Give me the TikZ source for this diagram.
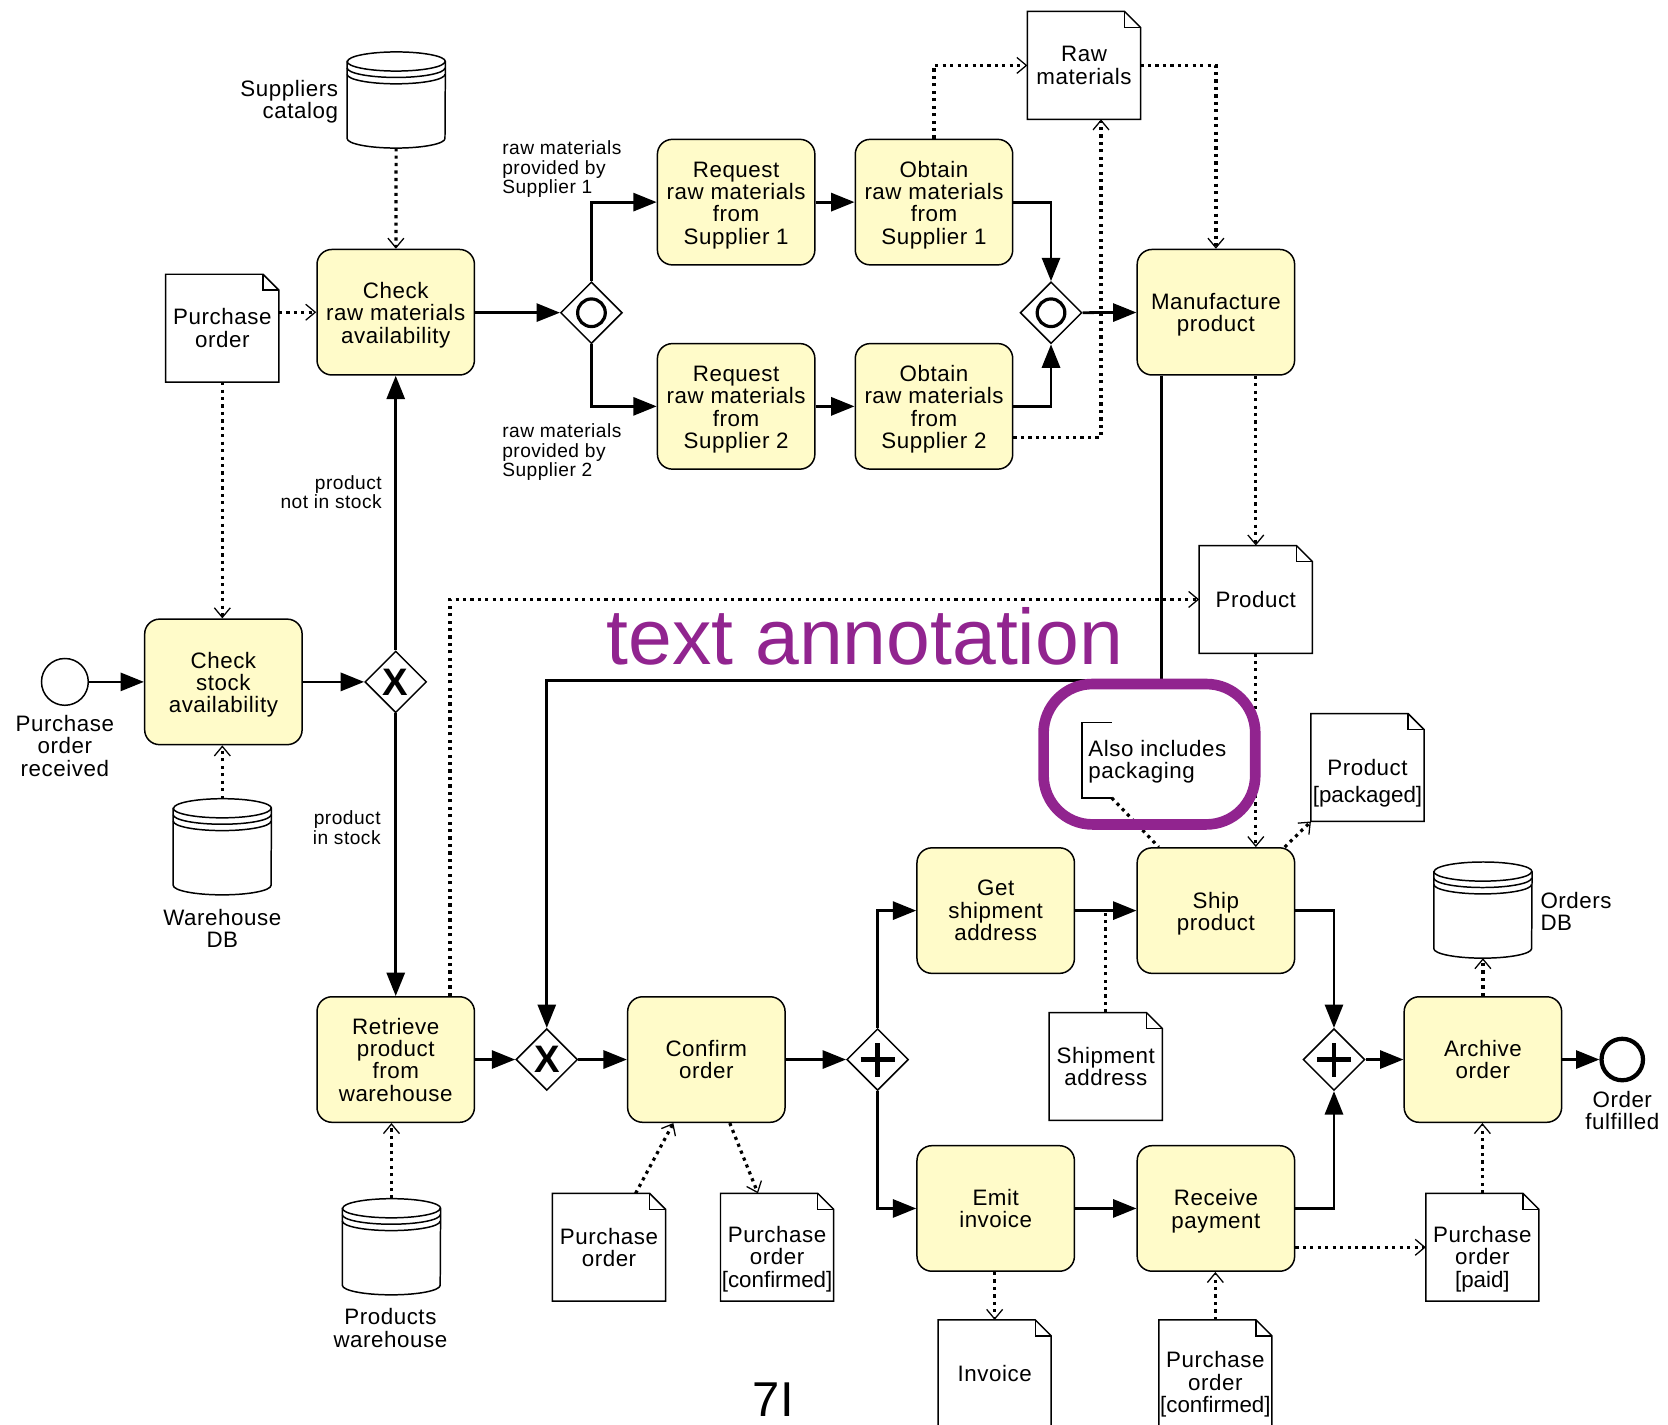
\documentclass[tikz,border=0pt]{standalone}
\usepackage{fontspec}
\setmainfont{Liberation Sans}[LetterSpace=2.5]
\newfontfamily\plainsans{Liberation Sans}
\usetikzlibrary{arrows.meta,calc,shapes.geometric}
\definecolor{taskfill}{RGB}{255,251,201}
\definecolor{annpurple}{RGB}{145,36,143}
\newcommand\tstrut{\rule{0pt}{20.5pt}}
\tikzset{
 task/.style={draw, line width=1.4pt, rounded corners=14pt, fill=taskfill, minimum width=148pt, minimum height=118pt, inner sep=0pt, align=center, font=\fontsize{21}{21}\selectfont},
 gw/.style={draw, diamond, line width=1.4pt, fill=white, minimum width=58pt, minimum height=58pt, inner sep=0pt},
 seq/.style={line width=2.6pt, -{Triangle[length=22pt,width=17pt]}},
 assoc/.style={line width=3pt, dash pattern=on 3pt off 4pt, -{Straight Barb[length=9pt,width=15pt,line width=1.2pt]}},
 plainassoc/.style={line width=3pt, dash pattern=on 3pt off 4pt},
 docbox/.style={minimum width=106pt, minimum height=101pt, inner sep=0pt},
 docline/.style={line width=1.4pt, fill=white},
 lbl/.style={font=\fontsize{21}{21}\selectfont, inner sep=0pt, align=center},
 small/.style={font=\fontsize{18}{18}\selectfont, inner sep=0pt},
 evt/.style={circle, draw, fill=white, inner sep=0pt},
}
\newcommand\docobj[5]{%
  \node[docbox] (#1) at (#2,#3) {};
  \filldraw[docline] (#1.north west) -- ($(#1.north east)+(-15pt,0)$) -- ($(#1.north east)+(0,-15pt)$) -- (#1.south east) -- (#1.south west) -- cycle;
  \draw[line width=1.4pt] ($(#1.north east)+(-15pt,0)$) -- ($(#1.north east)+(-15pt,-15pt)$) -- ($(#1.north east)+(0,-15pt)$);
  \node[lbl] (#1-text) at ({#2},{#3+#4}) {#5};
}
\newcommand\dstore[3]{%
  \node[minimum width=92pt, minimum height=90pt, inner sep=0pt] (#1) at (#2,#3) {};
  \filldraw[line width=1.4pt, fill=white] ($(#1.north west)+(0,-9pt)$) -- ($(#1.south west)+(0,9pt)$) arc[start angle=180,end angle=360,x radius=46pt,y radius=9pt] -- ($(#1.north east)+(0,-9pt)$) arc[start angle=0,end angle=180,x radius=46pt,y radius=9pt] -- cycle;
  \foreach \dd in {9,15,21} \draw[line width=1.4pt] ($(#1.north west)+(0,-\dd pt)$) arc[start angle=180,end angle=360,x radius=46pt,y radius=9pt];
}
\begin{document}
\begin{tikzpicture}[x=1pt,y=-1pt]
\useasboundingbox (0,0) rectangle (1568,1339);
\clip (0,0) rectangle (1568,1339);
\fill[white] (0,0) rectangle (1568,1339);

% tasks
\node[task] (chkraw) at (372,293.5) {\tstrut Check\\raw materials\\availability};
\node[task] (req1) at (692,190) {\tstrut Request\\raw materials\\from\\Supplier 1};
\node[task] (obt1) at (878,190) {\tstrut Obtain\\raw materials\\from\\Supplier 1};
\node[task] (req2) at (692,382) {\tstrut Request\\raw materials\\from\\Supplier 2};
\node[task] (obt2) at (878,382) {\tstrut Obtain\\raw materials\\from\\Supplier 2};
\node[task] (manuf) at (1143,293.5) {\tstrut Manufacture\\product};
\node[task] (chkstock) at (210,641) {\tstrut Check\\stock\\availability};
\node[task] (retrieve) at (372,996) {Retrieve\\product\\from\\warehouse};
\node[task] (confirm) at (664,996) {Confirm\\order};
\node[task] (getship) at (936,856) {Get\\shipment\\address};
\node[task] (ship) at (1143,856) {\tstrut Ship\\product};
\node[task] (emit) at (936,1136) {Emit\\invoice};
\node[task] (recv) at (1143,1136) {\tstrut Receive\\payment};
\node[task] (archive) at (1394,996) {Archive\\order};

% gateways
\node[gw] (or1) at (556,294) {};
\draw[line width=3pt] (or1) circle[radius=13pt];
\node[gw] (or2) at (988,294) {};
\draw[line width=3pt] (or2) circle[radius=13pt];
\node[gw] (xor1) at (372,641) {};
\node[inner sep=0pt, font=\plainsans\bfseries\fontsize{36}{36}\selectfont] (xor1-x) at (xor1) {X};
\node[gw] (xor2) at (514,996) {};
\node[inner sep=0pt, font=\plainsans\bfseries\fontsize{36}{36}\selectfont] (xor2-x) at (xor2) {X};
\node[gw] (and1) at (825,996) {};
\draw[line width=4pt] ($(and1)+(-16pt,0)$) -- ($(and1)+(16pt,0)$) ($(and1)+(0,-16pt)$) -- ($(and1)+(0,16pt)$);
\node[gw] (and2) at (1254,996) {};
\draw[line width=4pt] ($(and2)+(-16pt,0)$) -- ($(and2)+(16pt,0)$) ($(and2)+(0,-16pt)$) -- ($(and2)+(0,16pt)$);

% events
\node[evt, line width=1.4pt, minimum size=44pt] (start) at (61,641) {};
\node[lbl] (start-l) at (61,701) {Purchase\\order\\received};
\node[evt, line width=4pt, minimum size=39pt] (end) at (1525,996) {};
\node[lbl] (end-l) at (1525,1044) {Order\\fulfilled};

% data objects
\docobj{po1}{209}{308.5}{0}{Purchase\\order}
\docobj{rawmat}{1019}{61.5}{0}{Raw\\materials}
\docobj{product}{1180.5}{563.5}{0}{Product}
\docobj{pkg}{1285.5}{721.5}{15}{Product\\[4pt]{\plainsans[packaged]}}
\docobj{shipaddr}{1039.5}{1002.5}{0}{Shipment\\address}
\docobj{po2}{572.5}{1172.5}{0}{Purchase\\order}
\docobj{poc}{730.5}{1172.5}{11}{Purchase\\order\\{\plainsans[confirmed]}}
\docobj{invoice}{935}{1291.5}{0}{Invoice}
\docobj{poc2}{1142.5}{1291.5}{10}{Purchase\\order\\{\plainsans[confirmed]}}
\docobj{popaid}{1393.5}{1172.5}{11}{Purchase\\order\\{\plainsans[paid]}}

% data stores
\dstore{suppcat}{372.5}{94}
\node[lbl, anchor=east, align=right] (suppcat-l) at (318,95.5) {Suppliers\\catalog};
\dstore{whdb}{209}{796}
\node[lbl] (whdb-l) at (209,872.5) {Warehouse\\DB};
\dstore{prodwh}{368}{1172}
\node[lbl] (prodwh-l) at (367,1248.5) {Products\\warehouse};
\dstore{ordersdb}{1394}{855.5}
\node[lbl, anchor=west, align=left] (ordersdb-l) at (1448,856.5) {Orders\\DB};

% sequence flows
\draw[seq] (start) -- (chkstock);
\draw[seq] (chkstock) -- (xor1);
\draw[seq] (xor1) -- (chkraw);
\draw[seq] (xor1) -- (retrieve);
\draw[seq] (chkraw) -- (or1);
\draw[seq] (or1.north) |- (req1);
\draw[seq] (or1.south) |- (req2);
\draw[seq] (req1) -- (obt1);
\draw[seq] (req2) -- (obt2);
\draw[seq] (obt1) -| (or2.north);
\draw[seq] (obt2) -| (or2.south);
\draw[seq] (or2) -- (manuf);
\coordinate (mfout) at ($(manuf.south)+(-51pt,0)$);
\draw[seq] (mfout) |- (xor2.north |- 0,640) -- (xor2.north);
\draw[seq] (retrieve) -- (xor2);
\draw[seq] (xor2) -- (confirm);
\draw[seq] (confirm) -- (and1);
\draw[seq] (and1.north) |- (getship);
\draw[seq] (and1.south) |- (emit);
\draw[seq] (getship) -- (ship);
\draw[seq] (emit) -- (recv);
\draw[seq] (ship) -| (and2.north);
\draw[seq] (recv) -| (and2.south);
\draw[seq] (and2) -- (archive);
\draw[seq] (archive) -- (end);

% flow labels
\node[small, anchor=west, align=left] (lbl1) at (472,159) {raw materials\\provided by\\Supplier 1};
\node[small, anchor=west, align=left] (lbl2) at (472,425) {raw materials\\provided by\\Supplier 2};
\node[small, anchor=east, align=right] (lbl3) at (359,463) {product\\not in stock};
\node[small, anchor=east, align=right] (lbl4) at (358,778) {product\\in stock};

% data associations
\draw[assoc] (suppcat) -- (chkraw);
\draw[assoc] (po1.east |- chkraw) -- (chkraw.west);
\draw[assoc] (po1.south) -- (po1.south |- chkstock.north);
\draw[assoc] (whdb.north) -- (whdb.north |- chkstock.south);
\draw[assoc] (obt1.north) |- (rawmat.west);
\coordinate (o2r) at ($(obt2.east)+(0,-29pt)$);
\coordinate (rmb) at ($(rawmat.south)+(16pt,0)$);
\draw[assoc] (o2r) -| (rmb);
\draw[assoc] (rawmat.east) -| (manuf.north);
\draw[assoc] (product.north |- manuf.south) -- (product.north);
\coordinate (retout) at ($(retrieve.north)+(51pt,0)$);
\draw[assoc] (retout) |- (product.west);
\draw[assoc] (product.south) -- (product.south |- ship.north);
\draw[assoc] ($(ship.north east)+(-10pt,0)$) -- (pkg.south west);
\draw[plainassoc] (shipaddr.north) -- (shipaddr.north |- getship);
\draw[assoc] (prodwh.north) -- (prodwh.north |- retrieve.south);
\draw[assoc] ($(po2.north)+(25pt,0)$) -- ($(confirm.south)+(-31pt,0)$);
\draw[assoc] ($(confirm.south)+(22pt,0)$) -- ($(poc.north)+(-18pt,0)$);
\draw[assoc] (invoice.north |- emit.south) -- (invoice.north);
\draw[assoc] (poc2.north) -- (poc2.north |- recv.south);
\draw[assoc] (recv.east |- popaid.west) -- (popaid.west);
\draw[assoc] (popaid.north) -- (popaid.north |- archive.south);
\draw[assoc] (archive.north) -- (archive.north |- ordersdb.south);

% text annotation
\node[anchor=west, font=\fontsize{21}{21}\selectfont, align=left, inner sep=0pt] (ann) at (1023,716) {Also includes\\packaging};
\coordinate (annfoot) at (1045,750);
\draw[line width=1.4pt] (1045,679) -- (1017,679) -- (1017,750) -- (annfoot);
\draw[plainassoc] (annfoot) -- ($(ship.north west)+(21pt,0)$);

\node[anchor=base, text=annpurple, font=\plainsans\fontsize{74}{74}\selectfont, inner sep=0pt] (bigtxt) at (813,625) {text annotation};
\draw[annpurple, line width=10pt, rounded corners=46pt] (981,643) rectangle (1180,775);

\node[anchor=base, font=\plainsans\fontsize{46}{46}\selectfont, inner sep=0pt] (pgnum) at (727,1332) {7I};
\end{tikzpicture}
\end{document}
